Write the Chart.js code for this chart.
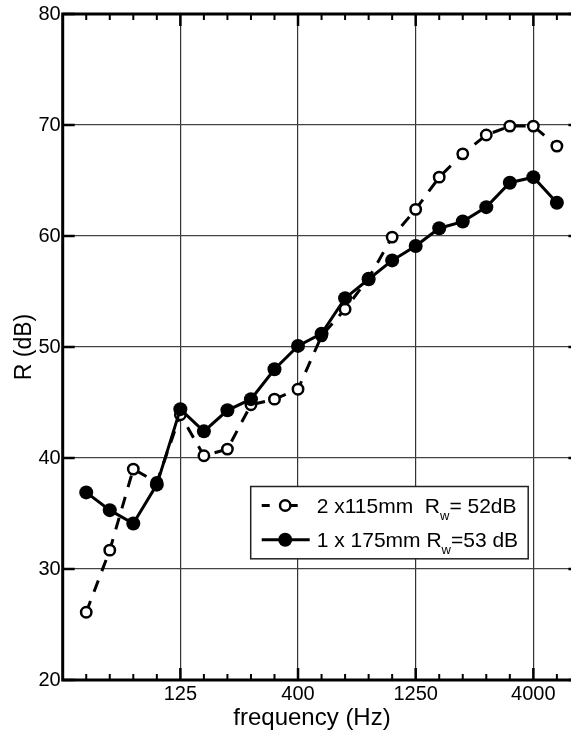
<!DOCTYPE html>
<html>
<head>
<meta charset="utf-8">
<script src="https://cdn.jsdelivr.net/npm/chart.js@4.4.0/dist/chart.umd.min.js"></script>
<style>
  html, body { margin: 0; padding: 0; background: #fff; }
</style>
</head>
<body>
<canvas id="chart" width="571" height="734"></canvas>
<script>
// third-octave band centres (Hz), plotted at their index
const bands = [50, 63, 80, 100, 125, 160, 200, 250, 315, 400, 500, 630, 800, 1000, 1250, 1600, 2000, 2500, 3150, 4000, 5000];
const labeledBands = [125, 400, 1250, 4000];
const yTicks = [20, 30, 40, 50, 60, 70, 80];

// sound reduction index R (dB) per band
const wall2x115 = [26.1, 31.7, 39.0, 37.8, 43.9, 40.2, 40.8, 44.8, 45.3, 46.2, 51.0, 53.4, 56.2, 59.9, 62.4, 65.3, 67.4, 69.1, 69.9, 69.9, 68.1];
const wall1x175 = [36.9, 35.3, 34.1, 37.6, 44.4, 42.4, 44.3, 45.3, 48.0, 50.1, 51.2, 54.4, 56.1, 57.8, 59.1, 60.7, 61.3, 62.6, 64.8, 65.3, 63.0];

const legendNames = ["2 x115mm  R", "1 x 175mm R"];
const legendValues = ["= 52dB", "=53 dB"];

const FONT = "'Liberation Sans', Arial, sans-serif";
const X_FRAME_END = 21; // right frame sits at the 6300 Hz position, just off the canvas

function toPoints(values) {
  return values.map((v, i) => ({ x: i, y: v }));
}

// frame, inward ticks, legend and x title
const framePlugin = {
  id: "frame",
  afterDraw(chart) {
    const { ctx, chartArea: a, scales } = chart;
    const x = scales.x;
    const y = scales.y;
    const frameRight = x.getPixelForValue(X_FRAME_END);
    ctx.save();
    ctx.strokeStyle = "#000";
    ctx.lineCap = "butt";

    bands.forEach((b, i) => {
      const px = x.getPixelForValue(i);
      const major = labeledBands.includes(b);
      const len = major ? 12 : 6;
      ctx.lineWidth = major ? 2.5 : 2;
      ctx.beginPath();
      ctx.moveTo(px, a.bottom);
      ctx.lineTo(px, a.bottom - len);
      ctx.moveTo(px, a.top);
      ctx.lineTo(px, a.top + len);
      ctx.stroke();
    });

    ctx.lineWidth = 2.5;
    yTicks.forEach((v) => {
      const py = y.getPixelForValue(v);
      ctx.beginPath();
      ctx.moveTo(a.left, py);
      ctx.lineTo(a.left + 12, py);
      ctx.moveTo(frameRight, py);
      ctx.lineTo(frameRight - 12, py);
      ctx.stroke();
    });

    ctx.lineWidth = 3;
    ctx.strokeRect(a.left, a.top, frameRight - a.left, a.bottom - a.top);

    // legend box
    const bx = a.left + 188, by = a.bottom - 193.5, bw = 277.5, bh = 72.3;
    ctx.fillStyle = "#fff";
    ctx.fillRect(bx, by, bw, bh);
    ctx.lineWidth = 1.5;
    ctx.strokeStyle = "#222";
    ctx.strokeRect(bx, by, bw, bh);

    const rows = [by + 19, by + 53.3];
    const sx = bx + 11;
    const cx = bx + 34.5;
    ctx.strokeStyle = "#000";
    ctx.lineWidth = 3;

    // dashed / open marker
    ctx.beginPath();
    ctx.moveTo(sx, rows[0]);
    ctx.lineTo(sx + 8, rows[0]);
    ctx.moveTo(cx + 4, rows[0]);
    ctx.lineTo(sx + 36, rows[0]);
    ctx.stroke();
    ctx.beginPath();
    ctx.arc(cx, rows[0], 5.2, 0, Math.PI * 2);
    ctx.fillStyle = "#fff";
    ctx.fill();
    ctx.lineWidth = 2.5;
    ctx.stroke();

    // solid / filled marker
    ctx.lineWidth = 3;
    ctx.beginPath();
    ctx.moveTo(sx, rows[1]);
    ctx.lineTo(sx + 48, rows[1]);
    ctx.stroke();
    ctx.beginPath();
    ctx.arc(cx, rows[1], 7, 0, Math.PI * 2);
    ctx.fillStyle = "#000";
    ctx.fill();

    ctx.fillStyle = "#000";
    ctx.textAlign = "left";
    ctx.textBaseline = "alphabetic";
    legendNames.forEach((name, i) => {
      const base = rows[i] + 7.6;
      let tx = bx + 66;
      ctx.font = "21px " + FONT;
      ctx.fillText(name, tx, base);
      tx += ctx.measureText(name).width;
      ctx.font = "13px " + FONT;
      ctx.fillText("w", tx, base + 7);
      tx += ctx.measureText("w").width;
      ctx.font = "21px " + FONT;
      ctx.fillText(legendValues[i], tx, base);
    });

    // x axis title
    ctx.font = "24px " + FONT;
    ctx.textAlign = "center";
    ctx.textBaseline = "middle";
    ctx.fillText("frequency (Hz)", 312, 718);
    ctx.restore();
  }
};

const ctx = document.getElementById("chart").getContext("2d");
new Chart(ctx, {
  type: "line",
  data: {
    datasets: [
      {
        label: "1 x 175mm Rw=53 dB",
        data: toPoints(wall1x175),
        borderColor: "#000",
        borderWidth: 3,
        pointRadius: 7,
        pointBackgroundColor: "#000",
        pointBorderColor: "#000",
        pointBorderWidth: 0,
        tension: 0
      },
      {
        label: "2 x115mm Rw= 52dB",
        data: toPoints(wall2x115),
        borderColor: "#000",
        borderWidth: 3,
        borderDash: [12, 10],
        pointRadius: 5.2,
        pointBackgroundColor: "#fff",
        pointBorderColor: "#000",
        pointBorderWidth: 2.5,
        tension: 0
      }
    ]
  },
  options: {
    responsive: false,
    animation: false,
    layout: {
      autoPadding: false,
      padding: { top: 14, right: 0, left: 0, bottom: 0 }
    },
    plugins: {
      legend: { display: false },
      tooltip: { enabled: false }
    },
    scales: {
      x: {
        type: "linear",
        min: -1,
        max: 20.6,
        afterBuildTicks: (scale) => {
          scale.ticks = labeledBands.map((b) => ({ value: bands.indexOf(b) }));
        },
        afterFit: (scale) => {
          scale.height = 54;
          scale.paddingLeft = 0;
          scale.paddingRight = 0;
        },
        ticks: {
          autoSkip: false,
          maxRotation: 0,
          padding: 2,
          color: "#000",
          font: { family: FONT, size: 20 },
          callback: (v) => String(bands[v])
        },
        grid: { color: "#333", lineWidth: 1.2, drawTicks: false },
        border: { display: false }
      },
      y: {
        min: 20,
        max: 80,
        afterBuildTicks: (scale) => {
          scale.ticks = yTicks.map((v) => ({ value: v }));
        },
        afterFit: (scale) => { scale.width = 62.7; },
        ticks: {
          padding: 2,
          color: "#000",
          font: { family: FONT, size: 20 }
        },
        grid: { color: "#444", lineWidth: 1.2, drawTicks: false },
        border: { display: false },
        title: {
          display: true,
          text: "R (dB)",
          color: "#000",
          font: { family: FONT, size: 23, lineHeight: 1 },
          padding: { top: 13, bottom: 0 }
        }
      }
    }
  },
  plugins: [framePlugin]
});
</script>
</body>
</html>
